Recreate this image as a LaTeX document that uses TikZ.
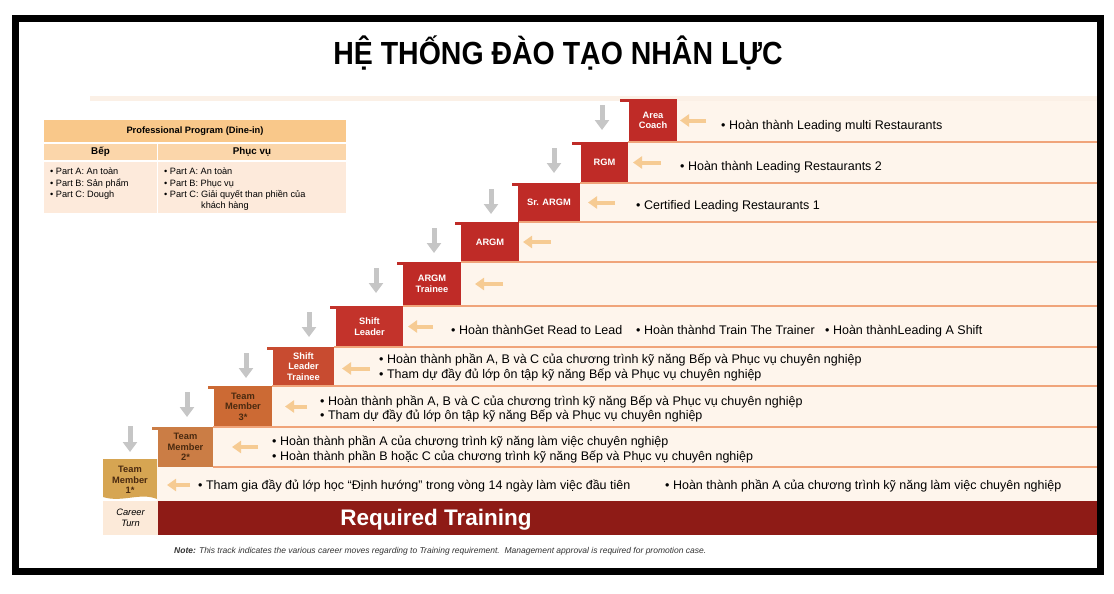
\documentclass[tikz,border=0pt]{standalone}
\usepackage{fontspec}
\usepackage{graphicx}
\setmainfont{Liberation Sans}
\usetikzlibrary{arrows.meta,calc}
\definecolor{peach}{HTML}{FEF5EC}
\definecolor{sepline}{HTML}{F0A47A}
\definecolor{redbox}{HTML}{BF2B27}
\definecolor{slbox}{HTML}{C3332B}
\definecolor{sltbox}{HTML}{C84B30}
\definecolor{tmthree}{HTML}{CC6A34}
\definecolor{tmtwo}{HTML}{CB7D45}
\definecolor{tmone}{HTML}{D6A552}
\definecolor{careerfill}{HTML}{FCEAD9}
\definecolor{reqbar}{HTML}{8E1B16}
\definecolor{arrorange}{HTML}{F6CB93}
\definecolor{arrgrey}{HTML}{C6C6C6}
\definecolor{thead}{HTML}{F9C88A}
\definecolor{tsub}{HTML}{FBD6AA}
\definecolor{tbody}{HTML}{FDEADB}
\definecolor{darkbrown}{HTML}{4A2A10}
\definecolor{notegrey}{HTML}{333333}
\definecolor{paleband}{HTML}{FBF0E6}
\begin{document}
\begin{tikzpicture}[x=1pt,y=-1pt,
  stepbox/.style={inner sep=0pt, outer sep=0pt, anchor=north west, align=center,
    font=\bfseries\fontsize{9.3}{10.5}\selectfont, text=white},
  oarr/.style={line width=4pt, draw=arrorange, -{Triangle[length=9pt,width=12pt]}},
  garr/.style={line width=5pt, draw=arrgrey, -{Triangle[length=10pt,width=14pt]}},
  txt/.style={inner sep=0pt, anchor=base west, font=\fontsize{12.5}{14}\selectfont, text=black},
  sepl/.style={draw=sepline, line width=1.2pt},
  tcell/.style={inner sep=0pt, outer sep=0pt, anchor=north west},
  ttxt/.style={inner sep=0pt, anchor=north west, align=left, font=\fontsize{9.2}{11.2}\selectfont, text=black}
]
\useasboundingbox (0,0) rectangle (1114,594);
\fill[white] (0,0) rectangle (1114,594);
\coordinate (R) at (1097,0);

% title
\node[inner sep=0pt, anchor=base, font=\bfseries\fontsize{32}{36}\selectfont] (title) at (558,65)
  {\scalebox{0.89}[1]{HỆ THỐNG ĐÀO TẠO NHÂN LỰC}};

% pale top band
\fill[paleband] (90,96) rectangle (1097,101);

% step boxes
\node[stepbox, fill=redbox, minimum width=48pt, minimum height=43pt] (ac) at (629,99) {Area\\Coach};
\node[stepbox, fill=redbox, minimum width=47pt, minimum height=41pt] (rgm) at (581,142) {RGM};
\node[stepbox, fill=redbox, minimum width=62pt, minimum height=39pt] (sr) at (518,183) {Sr. ARGM};
\node[stepbox, fill=redbox, minimum width=58pt, minimum height=40pt] (argm) at (461,222) {ARGM};
\node[stepbox, fill=redbox, minimum width=58pt, minimum height=44pt] (argmt) at (403,262) {ARGM\\Trainee};
\node[stepbox, fill=slbox, minimum width=67pt, minimum height=41pt] (sl) at (336,306) {Shift\\Leader};
\node[stepbox, fill=sltbox, minimum width=61pt, minimum height=39pt] (slt) at (273,347) {Shift\\Leader\\Trainee};
\node[stepbox, fill=tmthree, minimum width=58pt, minimum height=41pt, text=darkbrown] (tm3) at (214,386) {Team\\Member\\3*};
\node[stepbox, fill=tmtwo, minimum width=55pt, minimum height=40pt, text=darkbrown] (tm2) at (158,427) {Team\\Member\\2*};
% team member 1 with wavy bottom
\fill[tmone] (103,459) -- (157,459) -- (157,499) .. controls (140,492) and (122,503) .. (103,497) -- cycle;
\node[stepbox, minimum width=54pt, minimum height=42pt, text=darkbrown] (tm1) at (103,459) {Team\\Member\\1*};
\node[stepbox, fill=careerfill, minimum width=55pt, minimum height=34pt, text=black,
  font=\itshape\fontsize{9.3}{11}\selectfont] (ct) at (103,501) {Career\\Turn};

% ledges
\fill[redbox] ($(ac.north west)+(-9,0)$) rectangle ($(ac.north west)+(0,3)$);
\fill[redbox] ($(rgm.north west)+(-9,0)$) rectangle ($(rgm.north west)+(0,3)$);
\fill[redbox] ($(sr.north west)+(-6,0)$) rectangle ($(sr.north west)+(0,3)$);
\fill[redbox] ($(argm.north west)+(-6,0)$) rectangle ($(argm.north west)+(0,3)$);
\fill[redbox] ($(argmt.north west)+(-6,0)$) rectangle ($(argmt.north west)+(0,3)$);
\fill[slbox] ($(sl.north west)+(-6,0)$) rectangle ($(sl.north west)+(0,3)$);
\fill[sltbox] ($(slt.north west)+(-6,0)$) rectangle ($(slt.north west)+(0,3)$);
\fill[tmthree] ($(tm3.north west)+(-6,0)$) rectangle ($(tm3.north west)+(0,3)$);
\fill[tmtwo] ($(tm2.north west)+(-6,0)$) rectangle ($(tm2.north west)+(0,3)$);

% row backgrounds
\fill[peach] ($(ac.north east)+(0,2)$) rectangle (ac.south -| R);
\foreach \b in {rgm,sr,argm,argmt,sl,slt,tm3,tm2}{
  \fill[peach] (\b.north east) rectangle (\b.south -| R);
  \draw[sepl] (\b.north east) -- (\b.north -| R);
}
\fill[peach] (tm2.south -| tm1.east) rectangle (ct.north -| R);
\draw[sepl] (tm2.south east) -- (tm2.south -| R);

% required training bar
\fill[reqbar] (ct.north east) rectangle (ct.south -| R);
\node[inner sep=0pt, font=\bfseries\fontsize{22.5}{26}\selectfont, text=white] (req) at (436,520) {Required Training};

% orange arrows
\draw[oarr] ([xshift=29pt]ac.east) -- ([xshift=3pt]ac.east);
\draw[oarr] ([xshift=33pt]rgm.east) -- ([xshift=5pt]rgm.east);
\draw[oarr] ([xshift=35pt]sr.east) -- ([xshift=8pt]sr.east);
\draw[oarr] ([xshift=32pt]argm.east) -- ([xshift=4pt]argm.east);
\draw[oarr] ([xshift=42pt]argmt.east) -- ([xshift=14pt]argmt.east);
\draw[oarr] ([xshift=30pt]sl.east) -- ([xshift=5pt]sl.east);
\draw[oarr] ([xshift=36pt,yshift=-2pt]slt.east) -- ([xshift=8pt,yshift=-2pt]slt.east);
\draw[oarr] ([xshift=35pt]tm3.east) -- ([xshift=13pt]tm3.east);
\draw[oarr] ([xshift=45pt]tm2.east) -- ([xshift=19pt]tm2.east);
\draw[oarr] ([xshift=33pt,yshift=-5pt]tm1.east) -- ([xshift=10pt,yshift=-5pt]tm1.east);

% grey arrows
\foreach \b in {ac,rgm,sr,argm,argmt,sl,slt,tm3}{
  \draw[garr] ([xshift=-27pt,yshift=-6pt]\b.north west) -- ([xshift=-27pt,yshift=-31pt]\b.north west);
}
\draw[garr] ([xshift=-28pt,yshift=1pt]tm2.north west) -- ([xshift=-28pt,yshift=-25pt]tm2.north west);

% row texts
\node[txt] (t1) at (721,129) {• Hoàn thành Leading multi Restaurants};
\node[txt] (t2) at (680,170) {• Hoàn thành Leading Restaurants 2};
\node[txt] (t3) at (636,209) {• Certified Leading Restaurants 1};
\node[txt] (t6a) at (451,334) {• Hoàn thànhGet Read to Lead};
\node[txt] (t6b) at (636,334) {• Hoàn thànhd Train The Trainer};
\node[txt] (t6c) at (825,334) {• Hoàn thànhLeading A Shift};
\node[txt] (t7a) at (379,363) {• Hoàn thành phần A, B và C của chương trình kỹ năng Bếp và Phục vụ chuyên nghiệp};
\node[txt] (t7b) at (379,378) {• Tham dự đầy đủ lớp ôn tập kỹ năng Bếp và Phục vụ chuyên nghiệp};
\node[txt] (t8a) at (320,405) {• Hoàn thành phần A, B và C của chương trình kỹ năng Bếp và Phục vụ chuyên nghiệp};
\node[txt] (t8b) at (320,419) {• Tham dự đầy đủ lớp ôn tập kỹ năng Bếp và Phục vụ chuyên nghiệp};
\node[txt] (t9a) at (272,445) {• Hoàn thành phần A của chương trình kỹ năng làm việc chuyên nghiệp};
\node[txt] (t9b) at (272,460) {• Hoàn thành phần B hoặc C của chương trình kỹ năng Bếp và Phục vụ chuyên nghiệp};
\node[txt] (t10a) at (198,489) {• Tham gia đầy đủ lớp học “Định hướng” trong vòng 14 ngày làm việc đầu tiên};
\node[txt] (t10b) at (665,489) {• Hoàn thành phần A của chương trình kỹ năng làm việc chuyên nghiệp};

% note
\node[inner sep=0pt, anchor=base west, font=\itshape\fontsize{8.5}{10}\selectfont, text=notegrey] (note) at (174,553)
  {\textbf{Note:} This track indicates the various career moves regarding to Training requirement.\ \ Management approval is required for promotion case.};

% table
\node[tcell, fill=thead, minimum width=302pt, minimum height=22pt,
  font=\bfseries\fontsize{9.3}{10}\selectfont] (th) at (44,120) {Professional Program (Dine-in)};
\node[tcell, fill=tsub, minimum width=113pt, minimum height=16.5pt,
  font=\bfseries\fontsize{9.8}{10}\selectfont] (tb) at (44,143.5) {Bếp};
\node[tcell, fill=tsub, minimum width=188pt, minimum height=16.5pt,
  font=\bfseries\fontsize{9.8}{10}\selectfont] (tp) at (158,143.5) {Phục vụ};
\node[tcell, fill=tbody, minimum width=113pt, minimum height=51.5pt] (bb) at (44,161.5) {};
\node[tcell, fill=tbody, minimum width=188pt, minimum height=51.5pt] (bp) at (158,161.5) {};
\node[ttxt] (lb) at (50,168) {• Part A: An toàn\\• Part B: Sản phẩm\\• Part C: Dough};
\node[ttxt] (lp) at (164,168) {• Part A: An toàn\\• Part B: Phục vụ\\• Part C: Giải quyết than phiền của\\\phantom{• Part C: }khách hàng};

% frame
\draw[line width=7pt] (15.5,19) rectangle (1100,571.5);
\end{tikzpicture}
\end{document}
